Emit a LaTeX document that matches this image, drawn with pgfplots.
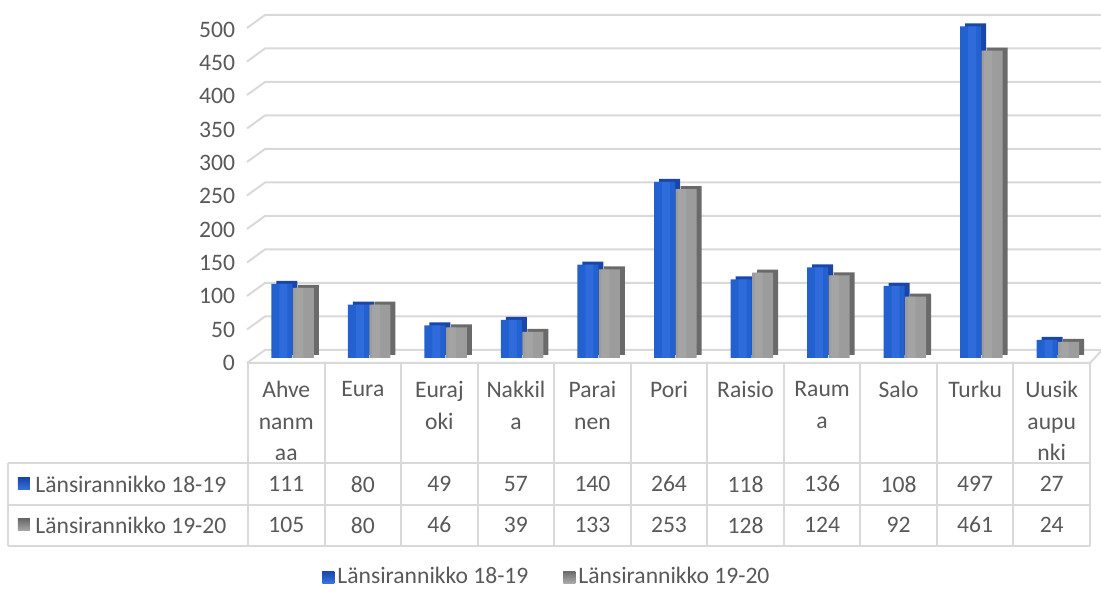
\documentclass[border=0pt]{standalone}
\usepackage{fontspec}
\setmainfont{Carlito}
\usepackage{pgfplots}
\usepackage{pgfplotstable}
\pgfplotsset{compat=1.18}
\definecolor{txt}{HTML}{595959}
\definecolor{gridc}{HTML}{D9D9D9}
\definecolor{bluef}{HTML}{2360D0}
\definecolor{bluel}{HTML}{3773E2}
\definecolor{blued}{HTML}{1A46A8}
\definecolor{grayf}{HTML}{9C9C9C}
\definecolor{grayl}{HTML}{AAAAAA}
\definecolor{grayd}{HTML}{6A6A6A}

\pgfplotstableread{
x a b
0 111 105
1 80 80
2 49 46
3 57 39
4 140 133
5 264 253
6 118 128
7 136 124
8 108 92
9 497 461
10 27 24
}\data

\begin{document}
\begin{tikzpicture}[font=\fontsize{11.8bp}{15.75bp}\selectfont, text=txt]
\useasboundingbox (0,0) rectangle (550.5bp,297.5bp);
\begin{scope}[x=0.5bp,y=-0.5bp,yshift=297.5bp]
  \foreach \v in {0,50,...,500} {
    \draw[gridc, line width=1bp] (247,{363-0.67*\v}) -- (265,{350-0.67*\v}) -- (1101,{350-0.67*\v});
  }
  \draw[gridc, line width=1bp] (247,363) -- (1090,363) -- (1104,348);
  \foreach \k in {0,...,11} \draw[gridc, line width=1bp] ({248+76.55*\k},363) -- ({248+76.55*\k},546);
  \draw[gridc, line width=1bp] (8,463) -- (1090,463) (8,505) -- (1090,505) (8,546) -- (1090,546) (8,463) -- (8,546);
  \shade[top color=blued, bottom color=bluel] (18,478) rectangle (30,490);
  \shade[top color=grayd, bottom color=grayl] (18,519) rectangle (30,531);
  \node[anchor=west, inner sep=0pt] at (35,484) {Länsirannikko 18-19};
  \node[anchor=west, inner sep=0pt] at (35,525) {Länsirannikko 19-20};
\end{scope}
\begin{axis}[
  at={(124bp,118.5bp)}, anchor=south west, scale only axis,
  width=421bp, height=166.75bp,
  xmin=-0.5, xmax=10.5, ymin=0, ymax=500, clip=false,
  axis line style={draw=none}, tick style={draw=none}, major tick length=0pt,
  ytick={0,50,...,500},
  xtick={0,...,10},
  xticklabels={{Ahve\\nanm\\aa},{Eura},{Euraj\\oki},{Nakkil\\a},{Parai\\nen},{Pori},{Raisio},{Raum\\a},{Salo},{Turku},{Uusik\\aupu\\nki}},
  /pgf/number format/assume math mode=true,
  ticklabel style={font=\fontsize{11.8bp}{15.75bp}\selectfont, text=txt},
  xticklabel style={align=center, anchor=north, inner sep=0pt, yshift=-11.5bp},
  yticklabel style={anchor=east, xshift=-3bp, yshift=-2.5bp},
  legend columns=2,
  legend style={at={(0.0879,-0.657)}, anchor=west, draw=none, fill=none,
    font=\fontsize{11.8bp}{15.75bp}\selectfont, text=txt,
    /tikz/every even column/.append style={column sep=16bp},
    inner sep=0pt, nodes={inner sep=1.5bp}},
]
% blue series: side/depth, front, highlight
\addplot[ybar, bar width=10.5bp, bar shift=-2.25bp, draw=none, fill=blued, xshift=2.5bp, yshift=1.5bp, forget plot] table[x=x,y=a]{\data};
\addplot[ybar, bar width=10.5bp, bar shift=-2.25bp, draw=none, fill=bluef,
  legend image code/.code={\shade[top color=blued, bottom color=bluel] (0bp,-3bp) rectangle (6bp,3bp);}] table[x=x,y=a]{\data};
\addlegendentry{Länsirannikko 18-19}
\addplot[ybar, bar width=4bp, bar shift=-1.5bp, draw=none, fill=bluel, fill opacity=0.6, forget plot] table[x=x,y=a]{\data};
% gray series
\addplot[ybar, bar width=10.5bp, bar shift=8.5bp, draw=none, fill=grayd, xshift=2.5bp, yshift=1.5bp, forget plot] table[x=x,y=b]{\data};
\addplot[ybar, bar width=10.5bp, bar shift=8.5bp, draw=none, fill=grayf,
  legend image code/.code={\shade[top color=grayd, bottom color=grayl] (0bp,-3bp) rectangle (6bp,3bp);}] table[x=x,y=b]{\data};
\addlegendentry{Länsirannikko 19-20}
\addplot[ybar, bar width=4bp, bar shift=6.5bp, draw=none, fill=grayl, fill opacity=0.6, forget plot] table[x=x,y=b]{\data};
% table values
\addplot[only marks, mark=none, forget plot, nodes near coords, point meta=\thisrow{a},
  nodes near coords align=center, every node near coord/.append style={text=txt, font=\fontsize{11.8bp}{15.75bp}\selectfont}] table[x=x, y expr=-189]{\data};
\addplot[only marks, mark=none, forget plot, nodes near coords, point meta=\thisrow{b},
  nodes near coords align=center, every node near coord/.append style={text=txt, font=\fontsize{11.8bp}{15.75bp}\selectfont}] table[x=x, y expr=-250.5]{\data};
\end{axis}
\end{tikzpicture}
\end{document}
